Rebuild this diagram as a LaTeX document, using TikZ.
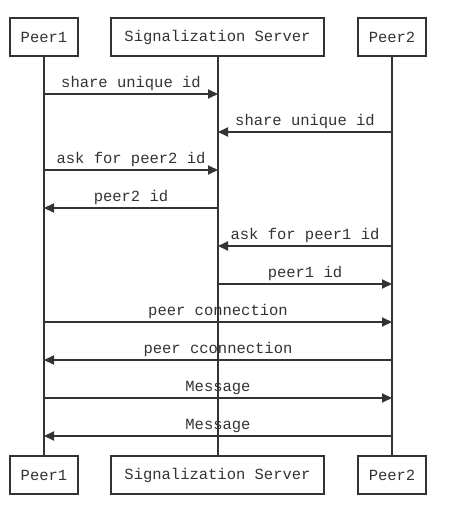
\documentclass[tikz,border=0pt]{standalone}
\usepackage{fontspec}
\setmonofont{Liberation Mono}
\usetikzlibrary{arrows.meta,positioning}
\definecolor{ink}{HTML}{333333}
\tikzstyle{seq}=[x=1pt,y=-1pt,line width=2pt,
                 every node/.style={font=\ttfamily\fontsize{15.5}{18}\selectfont,text=ink}]
\tikzstyle{actor}=[draw=ink,line width=2pt,minimum height=38pt,inner sep=0pt]
\tikzstyle{life}=[draw=ink,line width=2pt]
\tikzstyle{msg}=[every edge/.style={draw=ink,line width=2pt,
                 -{Triangle[length=10pt,width=9pt]}}]
\tikzstyle{mlabel}=[above=2pt, inner sep=0pt, fill=none, draw=none]

\begin{document}
\begin{tikzpicture}[seq]
\path[use as bounding box] (0,0) rectangle (456,516);
\node[actor, minimum width=68pt]  (peer1)  at (44,37)    {Peer1};
\node[actor, minimum width=213pt] (server) at (217.5,37) {Signalization Server};
\node[actor, minimum width=68pt]  (peer2)  at (392,37)   {Peer2};
\node[actor, minimum width=68pt]  (peer1b)  at (44,475)    {Peer1};
\node[actor, minimum width=213pt] (serverb) at (217.5,475) {Signalization Server};
\node[actor, minimum width=68pt]  (peer2b)  at (392,475)   {Peer2};
\path[life]
  (peer1) -- (peer1b)
  (server) -- (serverb)
  (peer2) -- (peer2b);
% message points on the lifelines
\foreach \i/\y in {1/94,2/132,3/170,4/208,5/246,6/284,7/322,8/360,9/398,10/436} {
  \coordinate (a\i) at (44,\y);
  \coordinate (s\i) at (218,\y);
  \coordinate (b\i) at (392,\y);
}
\path[msg]
  (a1) edge node[mlabel] {share unique id} (s1)
  (b2) edge node[mlabel] {share unique id} (s2)
  (a3) edge node[mlabel] {ask for peer2 id} (s3)
  (s4) edge node[mlabel] {peer2 id} (a4)
  (b5) edge node[mlabel] {ask for peer1 id} (s5)
  (s6) edge node[mlabel] {peer1 id} (b6)
  (a7) edge node[mlabel] {peer connection} (b7)
  (b8) edge node[mlabel] {peer cconnection} (a8)
  (a9) edge node[mlabel] {Message} (b9)
  (b10) edge node[mlabel] {Message} (a10);
\end{tikzpicture}
\end{document}
